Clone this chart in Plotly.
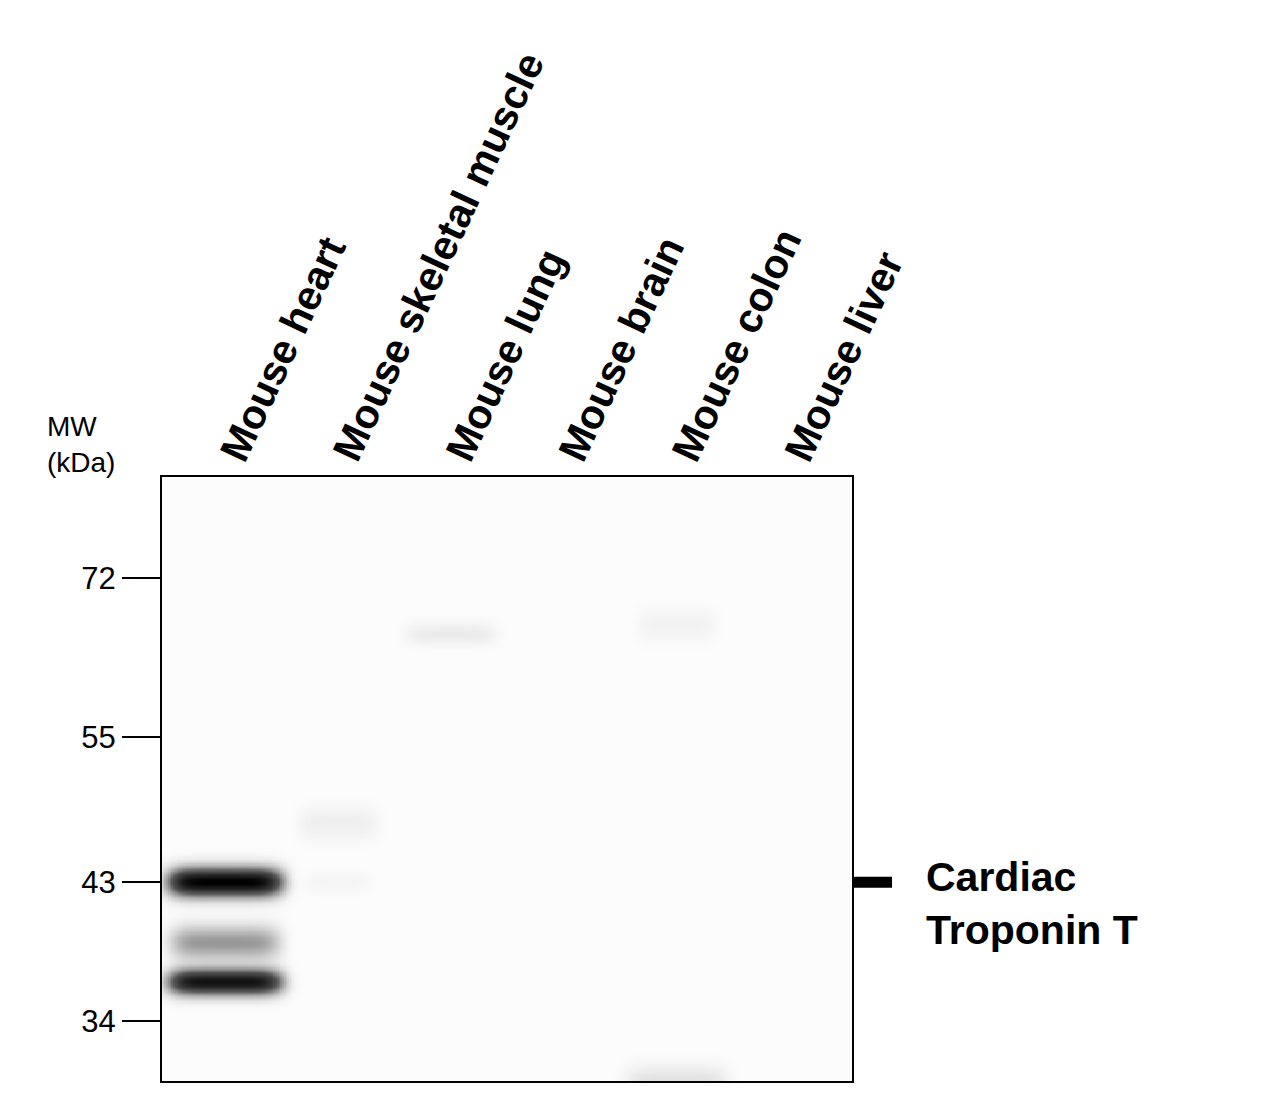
import numpy as np
import plotly.graph_objects as go

lanes = ["Mouse heart", "Mouse skeletal muscle", "Mouse lung", "Mouse brain", "Mouse colon", "Mouse liver"]
mw_ticks = [72, 55, 43, 34]
# bands: lane index, MW (kDa), intensity, half-width (lanes), thickness (log units)
band_lane = [0, 0, 0, 1, 2, 4, 1, 4]
band_mw = [43, 38.8, 36.3, 47.5, 65.5, 66.5, 43, 30.6]
band_int = [1.0, 0.3, 0.9, 0.04, 0.05, 0.03, 0.02, 0.08]
band_w = [0.5, 0.48, 0.5, 0.35, 0.4, 0.35, 0.3, 0.45]
band_t = [0.010, 0.012, 0.009, 0.012, 0.008, 0.012, 0.008, 0.012]

xs = np.linspace(-0.56, 5.55, 400)
ly = np.linspace(np.log10(30.7), np.log10(85.5), 500)
X, LY = np.meshgrid(xs, ly)
Z = np.zeros_like(X)
for l, m, a, w, t in zip(band_lane, band_mw, band_int, band_w, band_t):
    dx = (X - l) / w
    prof = np.exp(-dx**6)
    Z += a * prof * np.exp(-((LY - np.log10(m)) / t) ** 2)
Z = np.clip(Z, 0, 1)

fig = go.Figure(go.Heatmap(x=xs, y=10**ly, z=Z, zmin=0, zmax=1, showscale=False,
                           colorscale=[[0, "#fcfcfc"], [0.5, "#555"], [1, "#000"]], hoverinfo="skip"))
fig.update_xaxes(range=[-0.56, 5.55], showticklabels=False, ticks="", showgrid=False, zeroline=False,
                 showline=True, linecolor="black", linewidth=2, mirror=True)
fig.update_yaxes(type="log", range=[np.log10(30.7), np.log10(85.5)], tickvals=mw_ticks,
                 ticktext=[str(v) for v in mw_ticks], ticks="outside", ticklen=38, tickwidth=2,
                 tickcolor="black", showgrid=False, zeroline=False, showline=True, linecolor="black",
                 linewidth=2, mirror=True, tickfont=dict(family="Liberation Sans, Arial", size=31, color="black"))
ann = []
for i, name in enumerate(lanes):
    ann.append(dict(x=i - 0.15, y=1.01, xref="x", yref="paper", text=name, showarrow=False, textangle=-65,
                    xanchor="left", yanchor="bottom",
                    font=dict(family="Liberation Sans, Arial", size=41, color="black", weight="bold")))
ann.append(dict(x=-0.17, y=0.995, xref="paper", yref="paper", text="MW<br>(kDa)", showarrow=False, align="left",
                xanchor="left", yanchor="bottom", font=dict(family="Liberation Sans, Arial", size=28, color="black")))
ann.append(dict(x=1.105, y=np.log10(43), xref="paper", yref="y", text="Cardiac<br>Troponin T", showarrow=False,
                align="left", xanchor="left", yanchor="top", yshift=30,
                font=dict(family="Liberation Sans, Arial", size=41, color="black", weight="bold")))
fig.update_layout(width=1280, height=1097, margin=dict(l=154, r=436, t=469, b=24, pad=0),
                  paper_bgcolor="white", plot_bgcolor="white", annotations=ann,
                  shapes=[dict(type="line", xref="paper", yref="y", x0=1.0, x1=1.058, y0=43, y1=43,
                               line=dict(color="black", width=11))])
fig.write_html("out.html")
